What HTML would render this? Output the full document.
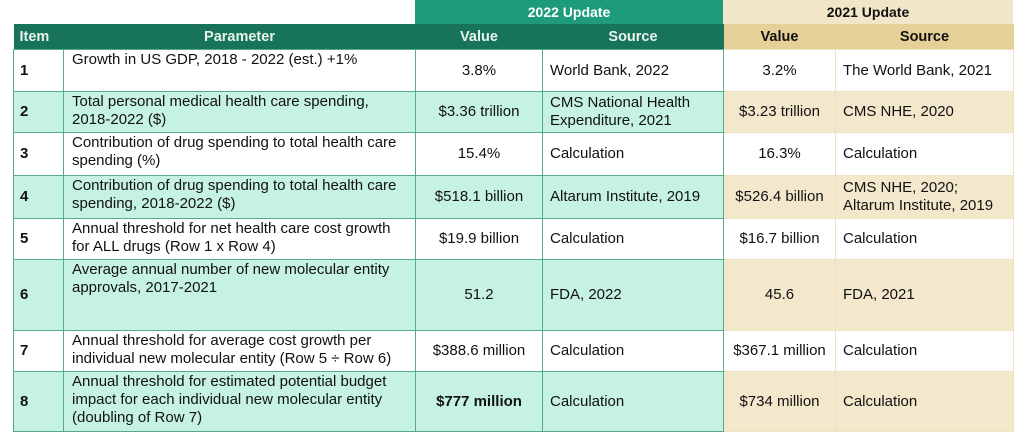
<!DOCTYPE html>
<html><head><meta charset="utf-8"><style>
body{margin:0;width:1024px;height:443px;background:#fff;font-family:"Liberation Sans",sans-serif;font-size:15px;color:#111;position:relative;overflow:hidden}
.top{position:absolute;top:0;height:24px;line-height:24px;text-align:center;font-weight:bold;font-size:14px}
table{position:absolute;left:13px;top:24px;border-collapse:collapse;table-layout:fixed;width:1000px}
td,th{padding:0 7px;overflow:hidden;line-height:18px}
th{height:25px;font-weight:bold;text-align:center;padding:0;font-size:14.5px}
th.g{background:#17745a;color:#e8f3ee}
th.b{background:#e5d198;color:#111}
td{border:1px solid #5aa88b}
td.it{font-weight:bold;vertical-align:middle;padding-left:6px}
td.p{vertical-align:top;padding-top:1px;padding-left:8px}
td.v{text-align:center;vertical-align:middle}
td.s{vertical-align:middle}
tr.w td{background:#fff}
tr.m td{background:#c6f2e5}
tr.w td.y{background:#fff;border-color:#efe2c0}
tr.m td.y{background:#f3e8cc;border-color:#efe2c0}
</style></head><body>
<div class="top" style="left:415px;width:308px;background:#1e9b7a;color:#fff">2022 Update</div>
<div class="top" style="left:723px;width:290px;background:#f1e6c8;color:#111">2021 Update</div>
<table>
<colgroup><col style="width:50px"><col style="width:352px"><col style="width:127px"><col style="width:181px"><col style="width:112px"><col style="width:178px"></colgroup>
<tr><th class="g" style="text-align:left;padding-left:6px">Item</th><th class="g">Parameter</th><th class="g">Value</th><th class="g">Source</th><th class="b">Value</th><th class="b">Source</th></tr>
<tr class="w" style="height:42px"><td class="it">1</td><td class="p">Growth in US GDP, 2018 - 2022 (est.) +1%</td><td class="v">3.8%</td><td class="s">World Bank, 2022</td><td class="v y">3.2%</td><td class="s y">The World Bank, 2021</td></tr>
<tr class="m" style="height:41px"><td class="it">2</td><td class="p">Total personal medical health care spending, 2018-2022 ($)</td><td class="v">$3.36 trillion</td><td class="s">CMS National Health Expenditure, 2021</td><td class="v y">$3.23 trillion</td><td class="s y">CMS NHE, 2020</td></tr>
<tr class="w" style="height:43px"><td class="it">3</td><td class="p">Contribution of drug spending to total health care spending (%)</td><td class="v">15.4%</td><td class="s">Calculation</td><td class="v y">16.3%</td><td class="s y">Calculation</td></tr>
<tr class="m" style="height:43px"><td class="it">4</td><td class="p">Contribution of drug spending to total health care spending, 2018-2022 ($)</td><td class="v">$518.1 billion</td><td class="s">Altarum Institute, 2019</td><td class="v y">$526.4 billion</td><td class="s y">CMS NHE, 2020;<br>Altarum Institute, 2019</td></tr>
<tr class="w" style="height:41px"><td class="it">5</td><td class="p">Annual threshold for net health care cost growth for ALL drugs (Row 1 x Row 4)</td><td class="v">$19.9 billion</td><td class="s">Calculation</td><td class="v y">$16.7 billion</td><td class="s y">Calculation</td></tr>
<tr class="m" style="height:71px"><td class="it">6</td><td class="p">Average annual number of new molecular entity approvals, 2017-2021</td><td class="v">51.2</td><td class="s">FDA, 2022</td><td class="v y">45.6</td><td class="s y">FDA, 2021</td></tr>
<tr class="w" style="height:41px"><td class="it">7</td><td class="p">Annual threshold for average cost growth per individual new molecular entity (Row 5 ÷ Row 6)</td><td class="v">$388.6 million</td><td class="s">Calculation</td><td class="v y">$367.1 million</td><td class="s y">Calculation</td></tr>
<tr class="m" style="height:60px"><td class="it">8</td><td class="p">Annual threshold for estimated potential budget impact for each individual new molecular entity (doubling of Row 7)</td><td class="v" style="font-weight:bold">$777 million</td><td class="s">Calculation</td><td class="v y">$734 million</td><td class="s y">Calculation</td></tr>
</table>
</body></html>
